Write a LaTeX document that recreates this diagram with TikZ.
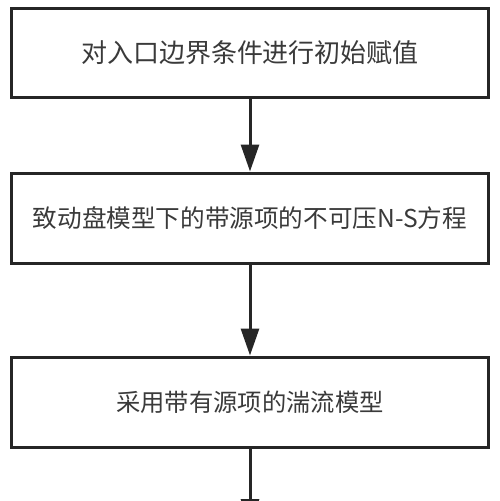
\documentclass[tikz,border=0pt]{standalone}
\usepackage{fontspec}
\setmainfont{Noto Sans CJK SC}
\usetikzlibrary{arrows.meta}
\definecolor{linec}{HTML}{262626}
\definecolor{textc}{HTML}{3A3A3A}
\tikzset{
  box/.style={draw=linec, line width=3pt, fill=white, rectangle, minimum width=477pt, inner sep=0pt, text=textc, font=\fontsize{24.6}{30}\selectfont},
  arr/.style={draw=linec, line width=3pt, -{Triangle[width=18pt,length=27pt]}}
}
\begin{document}
\begin{tikzpicture}[x=1pt,y=-1pt]
\useasboundingbox (0,0) rectangle (500,501);
\clip (0,0) rectangle (500,501);
\fill[white] (0,0) rectangle (500,501);
\node[box, minimum height=89.5pt, font=\fontsize{26}{30}\selectfont] (b1) at (250,52.75) {对入口边界条件进行初始赋值};
\node[box, minimum height=90pt] (b2) at (250,218) {致动盘模型下的带源项的不可压N-S方程};
\node[box, minimum height=90pt, font=\fontsize{24.3}{30}\selectfont] (b3) at (250,402) {采用带有源项的湍流模型};
\coordinate (e) at (250,526);
\draw[arr] (b1) -- (b2);
\draw[arr] (b2) -- (b3);
\draw[arr] (b3) -- (e);
\end{tikzpicture}
\end{document}
